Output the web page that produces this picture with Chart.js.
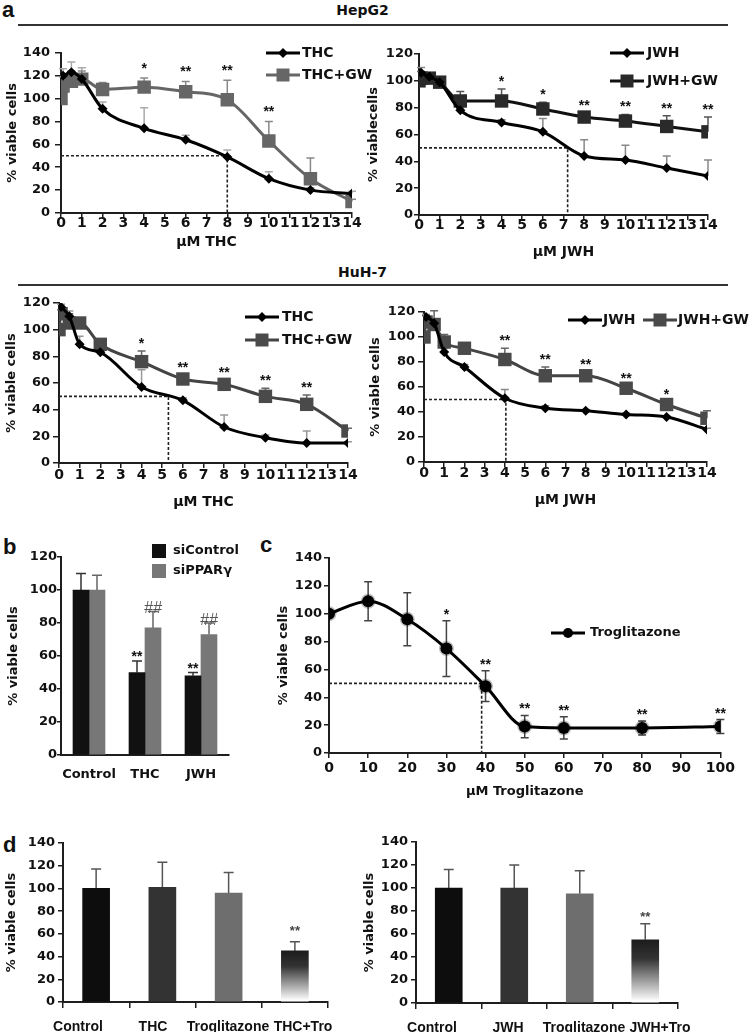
<!DOCTYPE html>
<html><head><meta charset="utf-8">
<script src="https://cdn.jsdelivr.net/npm/chart.js@4.4.1/dist/chart.umd.min.js"></script>
<style>
html,body{margin:0;padding:0;background:#fff}
body{position:relative;width:755px;height:1032px;overflow:hidden}
canvas{position:absolute}
.t{position:absolute;font-weight:bold;color:#111;white-space:nowrap}
.pl{font-family:"Liberation Sans",Arial,sans-serif;font-size:22px;line-height:22px}
.hd{font-family:"DejaVu Sans",sans-serif;font-size:14px;line-height:14px;left:0;width:725px;text-align:center}
.rule{position:absolute;left:18px;width:710px;height:2px;background:#333}
</style></head><body>
<div class="t pl" style="left:2px;top:-1px">a</div>
<div class="t hd" style="top:3px">HepG2</div>
<div class="rule" style="top:24px"></div>
<div class="t hd" style="top:265px">HuH-7</div>
<div class="rule" style="top:284px"></div>
<div class="t pl" style="left:3px;top:536px">b</div>
<div class="t pl" style="left:260px;top:534px">c</div>
<div class="t pl" style="left:3px;top:834px">d</div>
<canvas id="a1"></canvas><canvas id="a2"></canvas><canvas id="a3"></canvas><canvas id="a4"></canvas>
<canvas id="pb"></canvas><canvas id="pc"></canvas><canvas id="d1"></canvas><canvas id="d2"></canvas>
<script>
// ---------------- DATA ----------------
const concA = [0, 0.1, 0.5, 1, 2, 4, 6, 8, 10, 12, 14];

// HepG2 THC
const hepThc       = [null, 120, 123, 117, 91, 74, 64, 49, 30, 20, 17];
const hepThcErr    = [0, 6, 9, 10, 6, 18, 4, 6, 6, 2, 2];
const hepThcGw     = [100, 111, 115, 117, 108, 110, 106, 99, 63, 30, 10];
const hepThcGwErr  = [0, 8, 9, 7, 6, 8, 9, 17, 17, 18, 2];
const hepThcSig    = ['', '', '', '', '', '*', '**', '**', '**', '', ''];
const hepThcIC50 = 8;

// HepG2 JWH
const hepJwh       = [null, 106, 103, 99, 78, 69, 62, 44, 41, 35, 29];
const hepJwhErr    = [0, 4, 3, 3, 2, 2, 10, 12, 11, 9, 12];
const hepJwhGw     = [100, 102, 102, 99, 85, 85, 79, 73, 70, 66, 62];
const hepJwhGwErr  = [0, 5, 3, 3, 7, 9, 5, 3, 5, 8, 11];
const hepJwhSig    = ['', '', '', '', '', '*', '*', '**', '**', '**', '**'];
const hepJwhIC50 = 7.2;

// HuH-7 THC
const huhThc       = [null, 117, 110, 89, 83, 57, 47, 27, 19, 15, 15];
const huhThcErr    = [0, 2, 4, 6, 3, 13, 2, 9, 2, 9, 1];
const huhThcGw     = [100, 112, 105, 105, 89, 76, 63, 59, 50, 44, 24];
const huhThcGwErr  = [0, 3, 7, 4, 2, 8, 3, 3, 6, 7, 2];
const huhThcSig    = ['', '', '', '', '', '*', '**', '**', '**', '**', ''];
const huhThcIC50 = 5.3;

// HuH-7 JWH
const huhJwh       = [null, 116, 111, 88, 76, 51, 43, 41, 38, 36, 26];
const huhJwhErr    = [0, 2, 2, 3, 2, 7, 2, 1, 1, 1, 1];
const huhJwhGw     = [100, 112, 110, 96, 91, 82, 69, 69, 59, 46, 35];
const huhJwhGwErr  = [0, 5, 11, 6, 2, 9, 7, 3, 2, 2, 6];
const huhJwhSig    = ['', '', '', '', '', '**', '**', '**', '**', '*', ''];
const huhJwhIC50 = 4.05;

// Panel b
const bGroups      = ['Control', 'THC', 'JWH'];
const siControl    = [100, 50, 48];
const siControlErr = [10, 7, 2];
const siControlSig = ['', '**', '**'];
const siPPAR       = [100, 77, 73];
const siPPARErr    = [9, 10, 7];
const siPPARSig    = ['', '##', '##'];

// Panel c
const trogConc     = [0, 10, 20, 30, 40, 50, 60, 80, 100];
const trogVals     = [100, 109, 96, 75, 48, 19, 18, 18, 19];
const trogErr      = [0, 14, 19, 20, 11, 8, 8, 5, 5];
const trogSig      = ['', '', '', '*', '**', '**', '**', '**', '**'];
const trogIC50 = 39;

// Panel d
const d1Labels     = ['Control', 'THC', 'Troglitazone', 'THC+Tro'];
const d1Vals       = [100, 101, 96, 45];
const d1Err        = [17, 22, 18, 8];
const d1Sig        = ['', '', '', '**'];
const d2Labels     = ['Control', 'JWH', 'Troglitazone', 'JWH+Tro'];
const d2Vals       = [100, 100, 95, 55];
const d2Err        = [16, 20, 20, 14];
const d2Sig        = ['', '', '', '**'];

// ---------------- HELPERS ----------------
const FF = '"DejaVu Sans", sans-serif';
const FL = '"Liberation Sans", Arial, sans-serif';
const TXT = '#111', AX = '#1e1e1e';
Chart.defaults.font.family = FF;
const pts = (xs, ys) => xs.map((x, i) => ({x, y: ys[i]}));
const val = d => (d !== null && typeof d === 'object') ? d.y : d;

function place(id, L, R, T, B, yW, xH, padT, padR) {
  const c = document.getElementById(id);
  const left = L - yW, top = T - padT, w = R - L + yW + padR, h = B - T + padT + xH;
  c.style.left = left + 'px'; c.style.top = top + 'px';
  c.style.width = w + 'px'; c.style.height = h + 'px';
  c.width = w; c.height = h;
  return {c, padT, padR, yW, xH};
}

function drawMarker(ctx, ps, x, y, r) {
  ctx.beginPath();
  if (ps === 'rect') ctx.rect(x - r, y - r, 2 * r, 2 * r);
  else if (ps === 'rectRot') { ctx.moveTo(x, y - r); ctx.lineTo(x + r, y); ctx.lineTo(x, y + r); ctx.lineTo(x - r, y); ctx.closePath(); }
  else ctx.arc(x, y, r, 0, Math.PI * 2);
  ctx.fill();
}

const deco = {
  id: 'deco',
  beforeDatasetsDraw(chart, args, o) {
    const ctx = chart.ctx, xs = chart.scales.x, ys = chart.scales.y;
    if (o.ic50 != null) {
      ctx.save(); ctx.strokeStyle = '#222'; ctx.lineWidth = 1.6; ctx.setLineDash([3, 2]);
      const px = xs.getPixelForValue(o.ic50), py = ys.getPixelForValue(50);
      ctx.beginPath(); ctx.moveTo(xs.getPixelForValue(0), py); ctx.lineTo(px, py);
      ctx.lineTo(px, ys.getPixelForValue(0)); ctx.stroke(); ctx.restore();
    }
    chart.data.datasets.forEach((ds, i) => {
      if (!ds.errUp) return;
      const meta = chart.getDatasetMeta(i);
      ctx.save(); ctx.strokeStyle = ds.errColor || '#555'; ctx.lineWidth = ds.errWidth || 1.5;
      meta.data.forEach((el, j) => {
        const v = val(ds.data[j]); if (v == null) return;
        const up = ds.errUp[j] || 0, dn = ds.errDown ? (ds.errDown[j] || 0) : 0;
        if (!up && !dn) return;
        const x = el.x, yT = ys.getPixelForValue(v + up), yB = ys.getPixelForValue(v - dn), cw = ds.capW || 4;
        ctx.beginPath(); ctx.moveTo(x, yB); ctx.lineTo(x, yT);
        ctx.moveTo(x - cw, yT); ctx.lineTo(x + cw, yT);
        if (dn) { ctx.moveTo(x - cw, yB); ctx.lineTo(x + cw, yB); }
        ctx.stroke();
      });
      ctx.restore();
    });
  },
  afterDatasetsDraw(chart, args, o) {
    const ctx = chart.ctx, ys = chart.scales.y;
    chart.data.datasets.forEach((ds, i) => {
      if (!ds.sig) return;
      const meta = chart.getDatasetMeta(i);
      ctx.save(); ctx.fillStyle = ds.sigColor || '#111';
      ctx.font = ds.sigFont || 'bold 14px "Liberation Sans"';
      ctx.textAlign = 'center'; ctx.textBaseline = 'alphabetic';
      meta.data.forEach((el, j) => {
        const s = ds.sig[j]; if (!s) return;
        const v = val(ds.data[j]) + (ds.errUp ? (ds.errUp[j] || 0) : 0);
        ctx.fillText(s, el.x, ys.getPixelForValue(v) - (ds.sigGap != null ? ds.sigGap : 2));
      });
      ctx.restore();
    });
    if (o.legend) {
      const ox = chart.canvas.offsetLeft, oy = chart.canvas.offsetTop;
      ctx.save();
      o.legend.forEach(it => {
        const x = it.x - ox, y = it.y - oy;
        if (it.box) {
          ctx.fillStyle = it.color; ctx.fillRect(x - 7, y - 7, 14, 14);
        } else {
          ctx.strokeStyle = it.lineColor; ctx.lineWidth = 3;
          ctx.beginPath(); ctx.moveTo(x - it.half, y); ctx.lineTo(x + it.half, y); ctx.stroke();
          ctx.fillStyle = it.color; drawMarker(ctx, it.ps, x, y, it.r);
        }
        ctx.fillStyle = TXT; ctx.font = 'bold ' + (it.size || 14) + 'px ' + FF;
        ctx.textAlign = 'left'; ctx.textBaseline = 'middle';
        ctx.fillText(it.text, it.tx - ox, y);
      });
      ctx.restore();
    }
  }
};
Chart.register(deco);

function yScale(max, yW, title, tl, pad) {
  return {
    type: 'linear', min: 0, max,
    ticks: {stepSize: 20, maxTicksLimit: 50, color: TXT, font: {family: FF, size: 13, weight: 'bold'}, padding: pad},
    grid: {display: true, drawOnChartArea: false, drawTicks: true, tickLength: tl, color: AX, lineWidth: 1.5},
    border: {display: true, color: AX, width: 2},
    title: {display: true, text: title, color: TXT, font: {family: FF, size: 13, weight: 'bold'}, padding: 0},
    afterFit(s) { s.width = yW; }
  };
}
function xLin(max, step, xH, title, tsize, pad) {
  return {
    type: 'linear', min: 0, max,
    ticks: {stepSize: step, maxTicksLimit: 50, autoSkip: false, maxRotation: 0, minRotation: 0, color: TXT,
            font: {family: FF, size: 14, weight: 'bold'}, padding: pad},
    grid: {display: true, drawOnChartArea: false, drawTicks: true, tickLength: 5, color: AX, lineWidth: 1.5},
    border: {display: true, color: AX, width: 2},
    title: {display: true, text: title, color: TXT, font: {family: FF, size: tsize, weight: 'bold'}, padding: 0},
    afterFit(s) { s.height = xH; }
  };
}
function xCat(xH, tl, pad, size, showLabels) {
  return {
    type: 'category', offset: true, weight: 0,
    ticks: {display: showLabels !== false, autoSkip: false, maxRotation: 0, minRotation: 0, color: TXT,
            font: {family: FF, size, weight: 'bold'}, padding: pad},
    grid: {display: true, offset: true, drawOnChartArea: false, drawTicks: tl > 0, tickLength: tl, color: AX, lineWidth: 1.5},
    border: {display: true, color: AX, width: 2},
    afterFit(s) { s.height = xH; }
  };
}
function baseOpts(p, scales, decoOpts) {
  return {
    responsive: false, animation: false, devicePixelRatio: 1, events: [],
    layout: {padding: {top: p.padT, right: p.padR, left: 0, bottom: 0}},
    plugins: {legend: {display: false}, tooltip: {enabled: false}, deco: decoOpts},
    scales
  };
}
function lineDs(label, xs, ys, o) {
  return {
    label, data: pts(xs, ys), borderColor: o.color, backgroundColor: o.fill, borderWidth: 3,
    pointStyle: o.ps, pointRadius: o.r, pointBackgroundColor: o.fill, pointBorderColor: o.pb || o.fill,
    pointBorderWidth: o.pbw || 0, cubicInterpolationMode: 'monotone', fill: false,
    errUp: o.err, errDown: o.errDown, errColor: o.errColor, capW: o.capW || 4,
    sig: o.sig, sigGap: o.sigGap, order: o.order
  };
}

// ---------------- PANEL a ----------------
function panelA(id, geo, yMax, yTitle, xTitle, tickY, tickPadX, xsData, drug, drugErr, gw, gwErr, sig, ic50, names, cols, legend, sigGap) {
  const p = place(id, ...geo);
  new Chart(p.c, {
    type: 'line',
    data: {datasets: [
      lineDs(names[0], xsData, drug, {color: '#000', fill: '#000', ps: 'rectRot', r: 5, err: drugErr, errColor: cols.drugErr, order: 0}),
      lineDs(names[1], xsData, gw, {color: cols.gwLine, fill: cols.gwFill, ps: 'rect', r: 9.5, err: gwErr, errColor: cols.gwErr, sig, sigGap, order: 1})
    ]},
    options: baseOpts(p, {
      x: xLin(14, 1, p.xH, xTitle, 14, tickPadX),
      y: yScale(yMax, p.yW, yTitle, tickY[0], tickY[1])
    }, {ic50, legend})
  });
}

panelA('a1', [61, 352, 52, 213, 56, 38, 12, 26], 140, '% viable cells', 'µM THC', [6, 5], -3,
  concA, hepThc, hepThcErr, hepThcGw, hepThcGwErr, hepThcSig, hepThcIC50, ['THC', 'THC+GW'],
  {drugErr: '#aaa', gwLine: '#666', gwFill: '#666', gwErr: '#888'},
  [{x: 283, y: 53, half: 17, ps: 'rectRot', r: 5, color: '#000', lineColor: '#000', text: 'THC', tx: 302},
   {x: 283, y: 75, half: 17, ps: 'rect', r: 6.5, color: '#666', lineColor: '#666', text: 'THC+GW', tx: 302}], 5);

panelA('a2', [419, 708, 54, 215, 53, 46, 12, 14], 120, '% viablecells', 'µM JWH', [5, 1], -3,
  concA, hepJwh, hepJwhErr, hepJwhGw, hepJwhGwErr, hepJwhSig, hepJwhIC50, ['JWH', 'JWH+GW'],
  {drugErr: '#888', gwLine: '#111', gwFill: '#2a2a2a', gwErr: '#555'},
  [{x: 627, y: 53, half: 17, ps: 'rectRot', r: 5, color: '#000', lineColor: '#000', text: 'JWH', tx: 647},
   {x: 627, y: 81, half: 17, ps: 'rect', r: 6.5, color: '#2a2a2a', lineColor: '#111', text: 'JWH+GW', tx: 647}], 3);

panelA('a3', [59, 348, 303, 463, 55, 48, 12, 26], 120, '% viable cells', 'µM THC', [6, 3], -1,
  concA, huhThc, huhThcErr, huhThcGw, huhThcGwErr, huhThcSig, huhThcIC50, ['THC', 'THC+GW'],
  {drugErr: '#999', gwLine: '#444', gwFill: '#4a4a4a', gwErr: '#666'},
  [{x: 262, y: 317, half: 17, ps: 'rectRot', r: 5, color: '#000', lineColor: '#000', text: 'THC', tx: 282},
   {x: 262, y: 340, half: 17, ps: 'rect', r: 6.5, color: '#4a4a4a', lineColor: '#444', text: 'THC+GW', tx: 282}], 3);

panelA('a4', [424, 707, 312, 462, 56, 47, 12, 44], 120, '% viable cells', 'µM JWH', [6, 3], -2,
  concA, huhJwh, huhJwhErr, huhJwhGw, huhJwhGwErr, huhJwhSig, huhJwhIC50, ['JWH', 'JWH+GW'],
  {drugErr: '#888', gwLine: '#444', gwFill: '#4a4a4a', gwErr: '#666'},
  [{x: 585, y: 320, half: 17, ps: 'rectRot', r: 5, color: '#000', lineColor: '#000', text: 'JWH', tx: 603},
   {x: 660, y: 320, half: 17, ps: 'rect', r: 6.5, color: '#4a4a4a', lineColor: '#444', text: 'JWH+GW', tx: 678}], 3);

// ---------------- PANEL b ----------------
(function () {
  const p = place('pb', 61, 229, 557, 755, 55, 30, 16, 14);
  new Chart(p.c, {
    type: 'bar',
    data: {labels: bGroups, datasets: [
      {label: 'siControl', data: siControl, backgroundColor: '#111', barThickness: 16,
       errUp: siControlErr, errColor: '#333', capW: 5, sig: siControlSig, sigGap: 0},
      {label: 'siPPARγ', data: siPPAR, backgroundColor: '#777', barThickness: 16,
       errUp: siPPARErr, errColor: '#666', capW: 5, sig: siPPARSig, sigGap: -2, sigColor: '#555',
       sigFont: 'italic 16px "Liberation Sans"'}
    ]},
    options: baseOpts(p, {x: xCat(p.xH, 0, 12, 13), y: yScale(120, p.yW, '% viable cells', 4, 0)},
      {legend: [{box: true, x: 159, y: 551, color: '#111', text: 'siControl', tx: 173, size: 13},
                {box: true, x: 159, y: 571, color: '#777', text: 'siPPARγ', tx: 173, size: 13}]})
  });
})();

// ---------------- PANEL c ----------------
(function () {
  const p = place('pc', 329, 721, 558, 753, 53, 46, 12, 16);
  new Chart(p.c, {
    type: 'line',
    data: {datasets: [
      lineDs('Troglitazone', trogConc, trogVals, {color: '#000', fill: '#000', ps: 'circle', r: 6,
        pb: 'rgba(0,0,0,0.25)', pbw: 3, err: trogErr, errDown: trogErr, errColor: '#444', capW: 4,
        sig: trogSig, sigGap: 2, order: 0})
    ]},
    options: baseOpts(p, {
      x: xLin(100, 10, p.xH, 'µM Troglitazone', 13, 2),
      y: yScale(140, p.yW, '% viable cells', 5, 2)
    }, {ic50: trogIC50,
        legend: [{x: 568, y: 633, half: 17, ps: 'circle', r: 5, color: '#000', lineColor: '#000', text: 'Troglitazone', tx: 590, size: 13}]})
  });
})();

// ---------------- PANEL d ----------------
// bars on a category axis; names on a second (label) axis whose range spreads them as in the original
function panelD(id, geo, labRange, labels, vals, errs, sig, sigGap) {
  const p = place(id, ...geo);
  const cols = ['#0d0d0d', '#333333', '#6e6e6e'];
  const tickH = 6;
  new Chart(p.c, {
    type: 'bar',
    data: {labels, datasets: [{
      label: 'viable', data: vals, barThickness: 27, xAxisID: 'x', yAxisID: 'y',
      backgroundColor: (c) => {
        if (c.dataIndex < 3) return cols[c.dataIndex];
        const ch = c.chart, ys = ch.scales.y;
        if (!ch.chartArea || !ys) return '#444';
        const y1 = ys.getPixelForValue(vals[c.dataIndex]), y0 = ys.getPixelForValue(0);
        const g = ch.ctx.createLinearGradient(0, y1, 0, y0);
        g.addColorStop(0, '#1c1c1c'); g.addColorStop(0.3, '#333'); g.addColorStop(0.97, '#fff'); g.addColorStop(1, '#fff');
        return g;
      },
      errUp: errs, errColor: '#555', capW: 5, sig, sigGap, sigColor: '#444', sigFont: 'bold 13px "Liberation Sans"'
    }]},
    options: baseOpts(p, {
      x: xCat(tickH, tickH, 0, 13, false),
      xl: {
        type: 'linear', position: 'bottom', weight: 1, offset: false, min: labRange[0], max: labRange[1],
        afterBuildTicks(s) { s.ticks = labels.map((_, i) => ({value: i})); },
        ticks: {autoSkip: false, maxRotation: 0, minRotation: 0, color: TXT, padding: 3,
                font: {family: FL, size: 14, weight: 'bold'},
                callback: (v) => labels[v] !== undefined ? labels[v] : ''},
        grid: {display: false, offset: false}, border: {display: false},
        afterFit(s) { s.height = p.xH - tickH; }
      },
      y: yScale(140, p.yW, '% viable cells', 5, 3)
    }, {})
  });
}
panelD('d1', [63, 328, 843, 1002, 59, 30, 12, 30], [-0.2, 3.333], d1Labels, d1Vals, d1Err, d1Sig, 7);
panelD('d2', [416, 678, 842, 1003, 54, 29, 12, 30], [-0.2105, 3.237], d2Labels, d2Vals, d2Err, d2Sig, 3);
</script>
</body></html>
